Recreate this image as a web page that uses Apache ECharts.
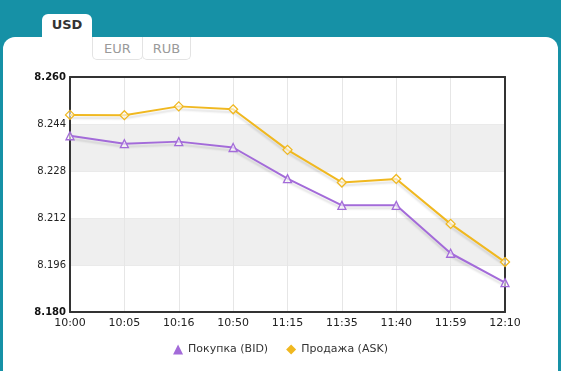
<!DOCTYPE html>
<html><head><meta charset="utf-8">
<script src="https://cdn.jsdelivr.net/npm/echarts@6/dist/echarts.min.js"></script>
<style>
html,body{margin:0;padding:0;width:561px;height:371px;overflow:hidden;background:#1691a6;font-family:"DejaVu Sans",Verdana,sans-serif;}
#card{position:absolute;left:3px;top:37px;width:555px;height:360px;background:#fff;border-radius:12px 12px 0 0;}
.tab{position:absolute;text-align:center;font-size:13px;}
#usd{left:42px;top:14px;width:50px;height:30px;background:#fff;border-radius:6px 6px 0 0;color:#333;font-weight:bold;line-height:22px;}
#eur,#rub{top:37px;height:22px;line-height:24px;border:1px solid #e3e3e3;border-top:none;border-radius:0 0 5px 5px;color:#9a9a9a;background:#fff;}
#eur{left:92px;width:49px;}
#rub{left:142px;width:47px;}
#chart{position:absolute;left:0;top:0;width:561px;height:371px;}
</style></head>
<body>
<div id="card"></div>
<div class="tab" id="usd">USD</div>
<div class="tab" id="eur">EUR</div>
<div class="tab" id="rub">RUB</div>
<div id="chart"></div>
<script>
const categories = ['10:00','10:05','10:16','10:50','11:15','11:35','11:40','11:59','12:10'];
const bid = [8.240, 8.2373, 8.238, 8.236, 8.2254, 8.2163, 8.2163, 8.200, 8.190];
const ask = [8.2471, 8.247, 8.250, 8.249, 8.2352, 8.2241, 8.2253, 8.210, 8.197];
const yTicks = [8.180, 8.196, 8.212, 8.228, 8.244, 8.260];
const seriesNames = ['Покупка (BID)', 'Продажа (ASK)'];
const bidColor = '#a36bd9', askColor = '#f0b820';

const chart = echarts.init(document.getElementById('chart'), null, {renderer:'canvas'});
const shadow = {shadowColor:'rgba(0,0,0,0.12)', shadowBlur:2, shadowOffsetY:3};
const yMin = yTicks[0], yMax = yTicks[yTicks.length-1];
chart.setOption({
  animation:false,
  textStyle:{fontFamily:'"DejaVu Sans", Verdana, sans-serif'},
  grid:{left:70,right:56,top:77,bottom:59},
  legend:{bottom:11,left:'center',itemWidth:10,itemHeight:10,itemGap:18,
    textStyle:{fontSize:11,color:'#333'},
    data:[{name:seriesNames[0],icon:'triangle',itemStyle:{color:bidColor,borderWidth:0}},
          {name:seriesNames[1],icon:'diamond',itemStyle:{color:askColor,borderWidth:0}}]},
  xAxis:[{type:'category',data:categories,boundaryGap:false,
    axisLine:{lineStyle:{color:'#333',width:2}},
    axisTick:{show:false},
    axisLabel:{color:'#222',fontSize:11,margin:6},
    splitLine:{show:true,lineStyle:{color:'#e6e6e6',width:1}}},
   {type:'category',data:categories,boundaryGap:false,position:'top',
    axisLine:{lineStyle:{color:'#333',width:2}},axisTick:{show:false},axisLabel:{show:false},splitLine:{show:false}}],
  yAxis:[{type:'value',min:yMin,max:yMax,
    axisLine:{show:true,lineStyle:{color:'#333',width:2}},
    axisTick:{show:false,customValues:yTicks},
    axisLabel:{customValues:yTicks,fontSize:10,color:'#222',margin:4,
      formatter:function(v){const s=v.toFixed(3);return (Math.abs(v-yMin)<1e-9||Math.abs(v-yMax)<1e-9)?'{b|'+s+'}':s;},
      rich:{b:{fontWeight:'bold',fontSize:10,color:'#111'}}},
    splitLine:{show:true,lineStyle:{color:'#eaeaea'}},
    splitArea:{show:true,areaStyle:{color:['#ffffff','#efefef']}}},
   {type:'value',min:yMin,max:yMax,position:'right',
    axisLine:{show:true,lineStyle:{color:'#333',width:2}},axisTick:{show:false},axisLabel:{show:false},splitLine:{show:false}}],
  series:[
    {name:seriesNames[0],type:'line',data:bid,symbol:'triangle',symbolSize:8,
      itemStyle:{color:'rgba(255,255,255,0.6)',borderColor:bidColor,borderWidth:1.3},
      lineStyle:Object.assign({color:bidColor,width:2},shadow)},
    {name:seriesNames[1],type:'line',data:ask,symbol:'diamond',symbolSize:9,
      itemStyle:{color:'rgba(255,255,255,0.6)',borderColor:askColor,borderWidth:1.3},
      lineStyle:Object.assign({color:askColor,width:2},shadow)}
  ]
});
</script>
</body></html>
